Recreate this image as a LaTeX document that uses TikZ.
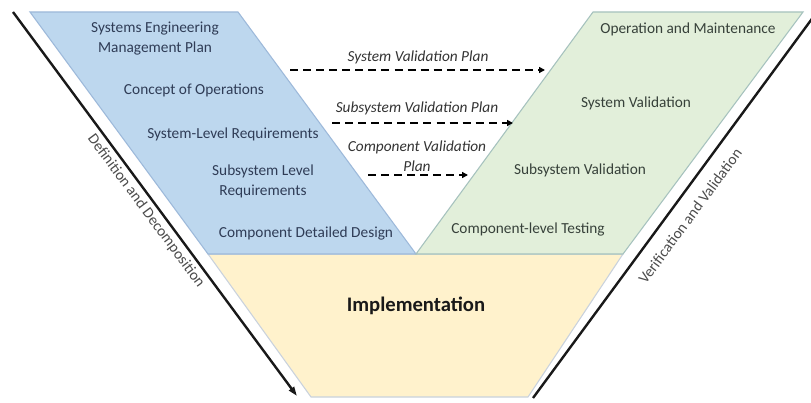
\documentclass[tikz,border=0pt]{standalone}
\usepackage{fontspec}
\setmainfont{Carlito}
\usetikzlibrary{arrows.meta}
\definecolor{defFill}{HTML}{BDD7EE}
\definecolor{defEdge}{HTML}{9DB9DA}
\definecolor{vvFill}{HTML}{E2EFDA}
\definecolor{vvEdge}{HTML}{A6C2BE}
\definecolor{implFill}{HTML}{FFF2CC}
\definecolor{implEdge}{HTML}{C9D2DD}
\definecolor{defText}{HTML}{2F3C56}
\definecolor{vvText}{HTML}{37413A}
\begin{document}
\begin{tikzpicture}[x=0.75pt,y=-0.75pt,
  phase/.style={line width=0.8pt, line join=miter},
  steplabel/.style={font=\fontsize{11.5}{15}\selectfont, align=center, inner sep=0pt},
  deflabel/.style={steplabel, text=defText},
  vvlabel/.style={steplabel, text=vvText},
  planlabel/.style={font=\fontsize{11.5}{15}\selectfont\itshape, text=black!80, align=center, inner sep=0pt},
  planarrow/.style={line width=1.5pt, dash pattern=on 6pt off 3.8pt, -{Triangle[length=4.5pt,width=4.5pt]}},
  sideline/.style={line width=1.8pt, black!90},
  sidelabel/.style={font=\fontsize{11.5}{14}\selectfont, text=black!70, inner sep=0pt}]
\useasboundingbox (0,0) rectangle (811,403);
\fill[white] (0,0) rectangle (811,403);

% corner points of the three phases
\coordinate (dTL) at (30,12);   \coordinate (dTR) at (238,12);
\coordinate (vTL) at (593,12);  \coordinate (vTR) at (803,12);
\coordinate (bL)  at (208,254); \coordinate (bM)  at (416,254); \coordinate (bR) at (623,254);
\coordinate (iBL) at (311,397); \coordinate (iBR) at (528,397);

% implementation trapezoid
\filldraw[phase, fill=implFill, draw=implEdge] (bL) -- (bR) -- (iBR) -- (iBL) -- cycle;
% definition and decomposition
\filldraw[phase, fill=defFill, draw=defEdge] (dTL) -- (dTR) -- (bM) -- (bL) -- cycle;
% verification and validation
\filldraw[phase, fill=vvFill, draw=vvEdge] (vTL) -- (vTR) -- (bR) -- (bM) -- cycle;

% left side steps
\node[deflabel] (semp) at (155,39) {Systems Engineering\\Management Plan};
\node[deflabel] (conops) at (194,90) {Concept of Operations};
\node[deflabel] (sysreq) at (233,134) {System-Level Requirements};
\node[deflabel] (subreq) at (263,181) {Subsystem Level\\Requirements};
\node[deflabel] (cdd) at (306,233) {Component Detailed Design};

% right side steps
\node[vvlabel] (om) at (688,29) {Operation and Maintenance};
\node[vvlabel] (sysval) at (636,103) {System Validation};
\node[vvlabel] (subval) at (580,170) {Subsystem Validation};
\node[vvlabel] (cltest) at (528,229) {Component-level Testing};

% bottom
\node[font=\fontsize{15.5}{18}\selectfont\bfseries, text=black!90, inner sep=0pt] (impl) at (416,306) {Implementation};

% validation plans
\node[planlabel] (svp) at (418,57) {System Validation Plan};
\coordinate (svpA) at (290,70);  \coordinate (svpB) at (545,70);
\draw[planarrow] (svpA) -- (svpB);

\node[planlabel] (ssvp) at (417,108) {Subsystem Validation Plan};
\coordinate (ssvpA) at (332,123); \coordinate (ssvpB) at (513,123);
\draw[planarrow] (ssvpA) -- (ssvpB);

\node[planlabel] (cvp) at (417,156) {Component Validation\\Plan};
\coordinate (cvpA) at (368,175); \coordinate (cvpB) at (468,175);
\draw[planarrow] (cvpA) -- (cvpB);

% side arrows
\coordinate (ddTop) at (13,12);  \coordinate (ddEnd) at (297,396);
\draw[sideline, -{Triangle[length=7pt,width=4.5pt]}] (ddTop) -- (ddEnd);
\node[sidelabel, rotate=-53.4] (ddLab) at (146,211) {Definition and Decomposition};

\coordinate (vvBot) at (533,398); \coordinate (vvEnd) at (814,16);
\draw[sideline] (vvBot) -- (vvEnd);
\node[sidelabel, rotate=53.7] (vvLab) at (690,216) {Verification and Validation};
\end{tikzpicture}
\end{document}
